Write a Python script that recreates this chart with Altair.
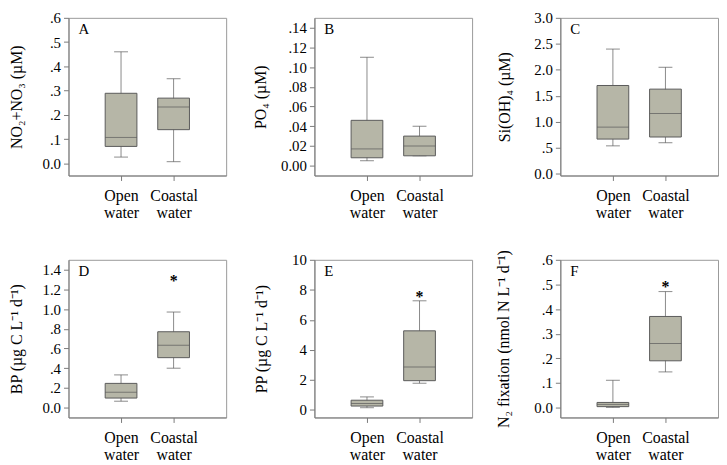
import json
import altair as alt
import pandas as pd

FONT = "Liberation Serif"

categories = ["Open water", "Coastal water"]
positions = [1, 2]

# Panel A: NO2+NO3
a_low = [0.026, 0.007]
a_q1 = [0.070, 0.139]
a_med = [0.107, 0.232]
a_q3 = [0.289, 0.269]
a_high = [0.460, 0.349]

# Panel B: PO4
b_low = [0.005, 0.010]
b_q1 = [0.008, 0.010]
b_med = [0.017, 0.020]
b_q3 = [0.046, 0.030]
b_high = [0.110, 0.040]

# Panel C: Si(OH)4
c_low = [0.54, 0.60]
c_q1 = [0.67, 0.71]
c_med = [0.90, 1.16]
c_q3 = [1.70, 1.63]
c_high = [2.40, 2.05]

# Panel D: BP
d_low = [0.065, 0.40]
d_q1 = [0.097, 0.507]
d_med = [0.156, 0.634]
d_q3 = [0.246, 0.770]
d_high = [0.332, 0.970]

# Panel E: PP
e_low = [0.15, 1.78]
e_q1 = [0.26, 1.95]
e_med = [0.43, 2.86]
e_q3 = [0.65, 5.27]
e_high = [0.87, 7.27]

# Panel F: N2 fixation
f_low = [0.001, 0.145]
f_q1 = [0.004, 0.190]
f_med = [0.013, 0.260]
f_q3 = [0.021, 0.370]
f_high = [0.111, 0.471]

letters = ["A", "B", "C", "D", "E", "F"]
titles = ["NO₂+NO₃ (µM)", "PO₄ (µM)", "Si(OH)₄ (µM)",
          "BP (µg C L⁻¹ d⁻¹)", "PP (µg C L⁻¹ d⁻¹)", "N₂ fixation (nmol N L⁻¹ d⁻¹)"]
domains = [[-0.05, 0.6], [-0.01, 0.15], [-0.03, 3.0],
           [-0.1, 1.5], [-0.5, 10], [-0.04, 0.6]]
ticks_a = [0, 0.1, 0.2, 0.3, 0.4, 0.5, 0.6]
ticks_b = [0, 0.02, 0.04, 0.06, 0.08, 0.10, 0.12, 0.14]
ticks_c = [0, 0.5, 1.0, 1.5, 2.0, 2.5, 3.0]
ticks_d = [0, 0.2, 0.4, 0.6, 0.8, 1.0, 1.2, 1.4]
ticks_e = [0, 2, 4, 6, 8, 10]
ticks_f = [0, 0.1, 0.2, 0.3, 0.4, 0.5, 0.6]
star_values = [None, None, None, 1.32, 7.8, 0.505]

fmt1 = "datum.value == 0 ? '0.0' : (datum.value < 1 ? substring(format(datum.value, '.1f'), 1) : format(datum.value, '.1f'))"
fmt2 = "datum.value == 0 ? '0.00' : substring(format(datum.value, '.2f'), 1)"
fmt0 = "format(datum.value, 'd')"
label_exprs = [fmt1, fmt2, fmt1, fmt1, fmt0, fmt1]
title_offsets = [-52, -54, -56, -52, -53, -57]

stats = [
    (a_low, a_q1, a_med, a_q3, a_high),
    (b_low, b_q1, b_med, b_q3, b_high),
    (c_low, c_q1, c_med, c_q3, c_high),
    (d_low, d_q1, d_med, d_q3, d_high),
    (e_low, e_q1, e_med, e_q3, e_high),
    (f_low, f_q1, f_med, f_q3, f_high),
]
tick_lists = [ticks_a, ticks_b, ticks_c, ticks_d, ticks_e, ticks_f]

x_label_expr = "datum.value == 1 ? {} : {}".format(
    json.dumps(categories[0].split(" ")), json.dumps(categories[1].split(" ")))

W, H = 159, 159
BOX_W = 32
CAP_W = 14
FILL = "#b6b6a7"
DARK = "#5a5a5a"
WHISK = "#8a8a8a"

panels = []
for i in range(6):
    low, q1, med, q3, high = stats[i]
    df = pd.DataFrame({"pos": positions, "cat": categories, "low": low, "q1": q1,
                       "med": med, "q3": q3, "high": high})
    xscale = alt.Scale(domain=[0, 3], nice=False, zero=False, padding=0)
    xaxis = alt.Axis(values=positions, labelExpr=x_label_expr, title=None,
                     labelFontSize=16, labelLineHeight=17, labelPadding=7,
                     tickSize=5, grid=False, labelBaseline="top",
                     labelOverlap=False, labelFlush=False)
    yscale = alt.Scale(domain=domains[i], nice=False, zero=False)
    yaxis = alt.Axis(values=tick_lists[i], tickCount=len(tick_lists[i]),
                     labelExpr=label_exprs[i], grid=False,
                     title=titles[i], titleX=title_offsets[i], titleBaseline="middle",
                     titleAngle=270, tickSize=5, labelPadding=3,
                     labelOverlap=False, labelFlush=False)

    def X():
        return alt.X("pos:Q", scale=xscale, axis=xaxis)

    def Y(field):
        return alt.Y(field, scale=yscale, axis=yaxis)

    base = alt.Chart(df)
    whisk = base.mark_rule(color=WHISK, strokeWidth=1).encode(
        x=X(), y=Y("low:Q"), y2="high:Q")
    cap_lo = base.mark_tick(orient="horizontal", size=CAP_W, thickness=1, color=DARK).encode(
        x=X(), y=Y("low:Q"))
    cap_hi = base.mark_tick(orient="horizontal", size=CAP_W, thickness=1, color=DARK).encode(
        x=X(), y=Y("high:Q"))
    box = base.mark_bar(size=BOX_W, fill=FILL, stroke=DARK, strokeWidth=1).encode(
        x=X(), y=Y("q1:Q"), y2="q3:Q")
    median = base.mark_tick(orient="horizontal", size=BOX_W, thickness=1, color=DARK).encode(
        x=X(), y=Y("med:Q"))
    letter = alt.Chart(pd.DataFrame({"t": [letters[i]]})).mark_text(
        font=FONT, fontSize=15, align="left", baseline="alphabetic", color="black").encode(
        x=alt.value(10), y=alt.value(16), text="t:N")
    layers = [whisk, cap_lo, cap_hi, box, median, letter]
    if star_values[i] is not None:
        sdf = pd.DataFrame({"pos": [positions[1]], "v": [star_values[i]], "s": ["*"]})
        star = alt.Chart(sdf).mark_text(font=FONT, fontSize=16, fontWeight="bold",
                                         baseline="alphabetic", dy=9, color="black").encode(
            x=X(), y=Y("v:Q"), text="s:N")
        layers.append(star)
    panels.append(alt.layer(*layers).properties(width=W, height=H))

chart = alt.concat(*panels, columns=3, spacing={"row": 85, "column": 89},
                   bounds="flush").properties(padding=0).configure_view(
    stroke="#9a9a9a", strokeWidth=1).configure_axis(
    labelFont=FONT, titleFont=FONT, labelFontSize=15, titleFontSize=16,
    titleFontWeight="normal", labelColor="black", titleColor="black",
    domainColor="#7a7a7a", tickColor="#7a7a7a")

chart.save("out.html", embed_options={"renderer": "svg", "actions": False})
